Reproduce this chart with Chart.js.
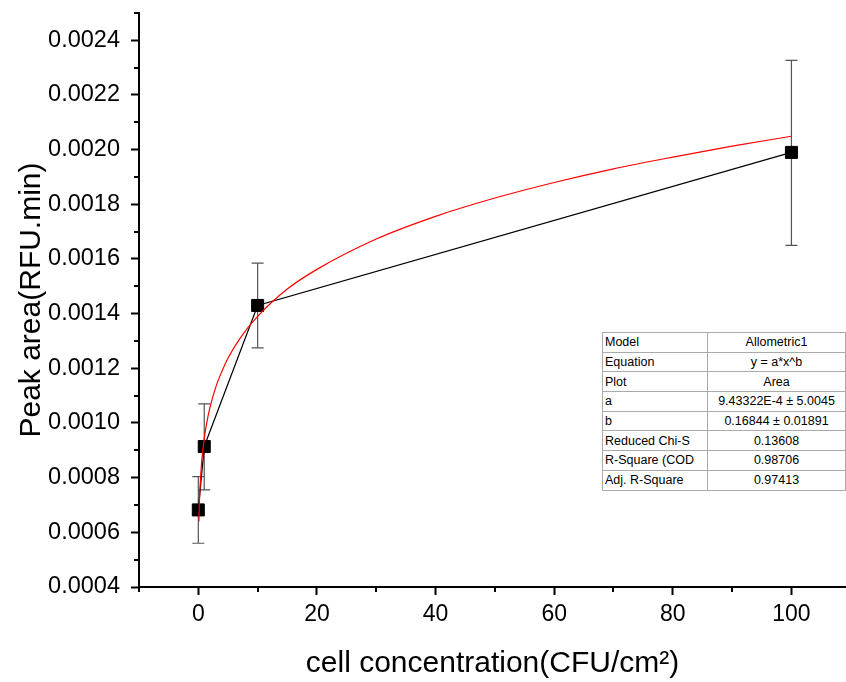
<!DOCTYPE html>
<html>
<head>
<meta charset="utf-8">
<script src="https://cdn.jsdelivr.net/npm/chart.js@4.4.1/dist/chart.umd.min.js"></script>
<style>
  body { margin: 0; background: #fff; }
  #wrap { position: relative; width: 846px; height: 682px; overflow: hidden; }
  #fit {
    position: absolute; left: 602px; top: 332px; width: 244px;
    border-collapse: collapse; font-family: "Liberation Sans", Arial, sans-serif;
    font-size: 12.5px; color: #000; background: #fff;
    border: 1px solid #000; table-layout: fixed;
  }
  #fit td { border: 1px solid #aaa; height: 18.7px; padding: 0 2px; line-height: 18px; white-space: nowrap; overflow: visible; }
  #fit td:first-child { width: 100px; text-align: left; }
  #fit td:last-child { text-align: center; }
</style>
</head>
<body>
<div id="wrap">
  <canvas id="myChart" width="846" height="682"></canvas>
  <table id="fit"></table>
</div>
<script>
// measured points
const conc = [0, 1, 10, 100];
const peakArea = [0.000682, 0.000914, 0.00143, 0.00199];
const errLow = [0.00056, 0.000755, 0.001275, 0.00165];
const errHigh = [0.000804, 0.00107, 0.001585, 0.002327];

// red fit curve
const fitX = [0.1, 0.2, 0.3, 0.5, 0.6, 1, 1.5, 2, 3, 4, 5, 7, 10, 15, 20, 30, 40, 50, 60, 70, 80, 90, 100];
const fitY = [0.00064, 0.000719, 0.00077, 0.000839, 0.000866, 0.000943, 0.00101, 0.00106, 0.001135, 0.00119,
  0.001237, 0.001309, 0.00139, 0.00149, 0.001562, 0.001673, 0.001756, 0.001823, 0.00188, 0.00193, 0.001973,
  0.002013, 0.002049];

const xTicks = [0, 20, 40, 60, 80, 100];
const yTicks = [0.0004, 0.0006, 0.0008, 0.0010, 0.0012, 0.0014, 0.0016, 0.0018, 0.0020, 0.0022, 0.0024];

const tableRows = [
  ["Model", "Allometric1"],
  ["Equation", "y = a*x^b"],
  ["Plot", "Area"],
  ["a", "9.43322E-4 \u00b1 5.0045"],
  ["b", "0.16844 \u00b1 0.01891"],
  ["Reduced Chi-S", "0.13608"],
  ["R-Square (COD", "0.98706"],
  ["Adj. R-Square", "0.97413"],
];

document.getElementById("fit").innerHTML = tableRows
  .map((r) => "<tr><td>" + r[0] + "</td><td>" + r[1] + "</td></tr>")
  .join("");

const FONT = "'Liberation Sans', Arial, sans-serif";

// error bars + minor ticks
const extras = {
  id: "extras",
  beforeDatasetsDraw(chart) {
    const { ctx, scales: { x, y } } = chart;
    ctx.save();
    ctx.strokeStyle = "#555";
    ctx.lineWidth = 1.2;
    conc.forEach((c, i) => {
      const px = x.getPixelForValue(c);
      const lo = y.getPixelForValue(errLow[i]);
      const hi = y.getPixelForValue(errHigh[i]);
      ctx.beginPath();
      ctx.moveTo(px, lo); ctx.lineTo(px, hi);
      ctx.moveTo(px - 6, lo); ctx.lineTo(px + 6, lo);
      ctx.moveTo(px - 6, hi); ctx.lineTo(px + 6, hi);
      ctx.stroke();
    });
    ctx.restore();
  },
  afterDraw(chart) {
    const { ctx, scales: { x, y }, chartArea } = chart;
    ctx.save();
    ctx.strokeStyle = "#000";
    ctx.lineWidth = 2;
    ctx.beginPath();
    for (let i = 0; i < xTicks.length; i++) {
      const v = xTicks[i] + 10;
      if (v <= x.max) {
        const px = Math.round(x.getPixelForValue(v));
        ctx.moveTo(px, chartArea.bottom); ctx.lineTo(px, chartArea.bottom + 5);
      }
    }
    const lx = Math.round(x.getPixelForValue(-10));
    ctx.moveTo(lx, chartArea.bottom); ctx.lineTo(lx, chartArea.bottom + 5);
    for (let i = 0; i < yTicks.length; i++) {
      const v = yTicks[i] + 0.0001;
      if (v <= y.max + 1e-9) {
        const py = Math.round(y.getPixelForValue(v));
        ctx.moveTo(chartArea.left, py); ctx.lineTo(chartArea.left - 5, py);
      }
    }
    ctx.stroke();
    ctx.restore();
  },
};

const ctx = document.getElementById("myChart");

const myChart = new Chart(ctx, {
  type: "scatter",
  plugins: [extras],
  data: {
    datasets: [
      {
        label: "fit",
        data: fitX.map((v, i) => ({ x: v, y: fitY[i] })),
        showLine: true,
        borderColor: "#ff0000",
        borderWidth: 1.2,
        pointRadius: 0,
        cubicInterpolationMode: "monotone",
        order: 0,
      },
      {
        label: "Area",
        data: conc.map((v, i) => ({ x: v, y: peakArea[i] })),
        showLine: true,
        borderColor: "#000",
        borderWidth: 1.2,
        pointStyle: "rect",
        pointRadius: 8.5,
        pointBackgroundColor: "#000",
        pointBorderColor: "#000",
        pointBorderWidth: 1,
        tension: 0,
        order: 1,
      },
    ],
  },
  options: {
    responsive: false,
    animation: false,
    layout: { autoPadding: false, padding: { top: 13, right: 0, left: 0, bottom: 0 } },
    plugins: {
      legend: { display: false },
      tooltip: { enabled: false },
    },
    scales: {
      x: {
        type: "linear",
        min: -10,
        max: 109.2,
        afterBuildTicks: (scale) => { scale.ticks = xTicks.map((v) => ({ value: v })); },
        afterFit: (scale) => { scale.height = 95; scale.paddingLeft = 0; scale.paddingRight = 0; },
        grid: { drawOnChartArea: false, tickLength: 8, tickWidth: 2, tickColor: "#000" },
        border: { color: "#000", width: 2 },
        ticks: { color: "#000", padding: 6, maxRotation: 0, font: { family: FONT, size: 23 } },
        title: {
          display: true,
          text: "cell concentration(CFU/cm\u00b2)",
          color: "#000",
          font: { family: FONT, size: 30 },
          padding: { top: 8, bottom: 0 },
        },
      },
      y: {
        type: "linear",
        min: 0.0004,
        max: 0.0025,
        afterBuildTicks: (scale) => { scale.ticks = yTicks.map((v) => ({ value: v })); },
        afterFit: (scale) => { scale.width = 139; scale.paddingTop = 0; scale.paddingBottom = 0; },
        grid: { drawOnChartArea: false, tickLength: 8, tickWidth: 2, tickColor: "#000" },
        border: { color: "#000", width: 2 },
        ticks: {
          color: "#000",
          padding: 11,
          font: { family: FONT, size: 23.5 },
          callback: (v) => v.toFixed(4),
        },
        title: {
          display: true,
          text: "Peak area(RFU.min)",
          color: "#000",
          font: { family: FONT, size: 30 },
          padding: { top: 14, bottom: 0 },
        },
      },
    },
  },
});
</script>
</body>
</html>
